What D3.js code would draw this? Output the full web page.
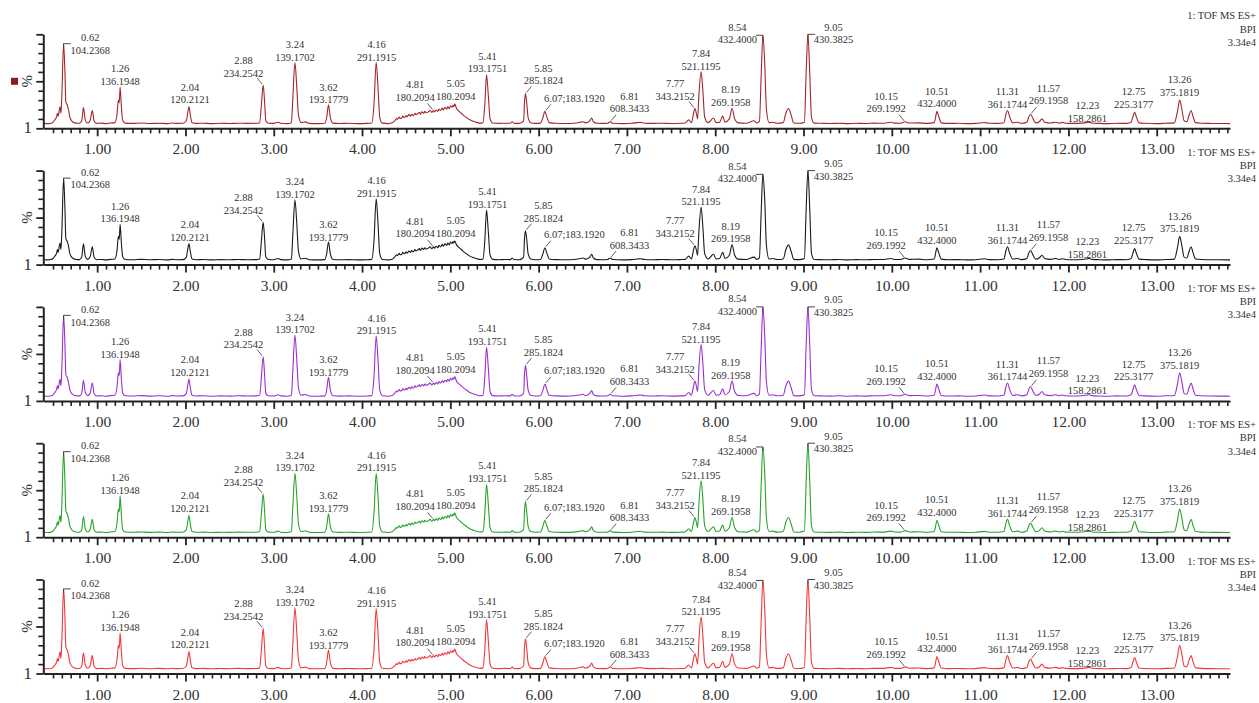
<!DOCTYPE html>
<html>
<head>
<meta charset="utf-8">
<script src="https://cdn.jsdelivr.net/npm/d3@7"></script>
<style>
  body { margin: 0; background: #fff; }
  text { font-family: "Liberation Serif", "DejaVu Serif", serif; fill: #333; }
</style>
</head>
<body>
<div id="chart-area"></div>
<script>
// labelled peaks: retention time (min) and base peak m/z
var peakRt = [0.62, 1.26, 2.04, 2.88, 3.24, 3.62, 4.16, 4.81, 5.05, 5.41, 5.85, 6.07, 6.81,
              7.77, 7.84, 8.19, 8.54, 9.05, 10.15, 10.51, 11.31, 11.57, 12.23, 12.75, 13.26];
var peakMz = ["104.2368", "136.1948", "120.2121", "234.2542", "139.1702", "193.1779", "291.1915",
              "180.2094", "180.2094", "193.1751", "285.1824", "183.1920", "608.3433", "343.2152",
              "521.1195", "269.1958", "432.4000", "430.3825", "269.1992", "432.4000", "361.1744",
              "269.1958", "158.2861", "225.3177", "375.1819"];

// apex heights (%) of the labelled peaks, one array per sample
var apexS1 = [90, 44, 23, 46, 70, 25, 70, 19, 26, 57, 37, 18, 7, 21, 60, 21, 99, 100, 7, 18, 19, 15, 6.5, 17, 30];
var apexS2 = [92, 43, 22, 45, 69, 24, 70, 19, 25, 58, 36, 18, 7, 20, 61, 21, 96, 100, 7, 18, 19, 15, 6.5, 17, 30];
var apexS3 = [91, 44, 23, 47, 70, 25, 69, 19, 26, 57, 38, 18, 7, 21, 60, 21, 100, 100, 7, 18, 19, 15, 6.5, 17, 30];
var apexS4 = [91, 44, 23, 46, 68, 25, 68, 19, 26, 56, 38, 18, 7, 21, 60, 21, 96, 100, 7, 18, 19, 15, 6.5, 17, 30];
var apexS5 = [90, 43, 23, 48, 70, 25, 69, 19, 26, 57, 37, 18, 7, 21, 60, 21, 99, 100, 7, 18, 19, 15, 6.5, 17, 30];

// rest of the BPI trace [time, %] (shared by the replicate injections)
var baseTrace = [
  [0.40, 5.2], [0.45, 5.0], [0.48, 5.4], [0.50, 6.5], [0.52, 9], [0.54, 12], [0.55, 16], [0.56, 13],
  [0.57, 19], [0.58, 23], [0.59, 16], [0.60, 35], [0.635, 60], [0.645, 28], [0.66, 25], [0.675, 20],
  [0.69, 12], [0.72, 7], [0.76, 5.5], [0.80, 5.3], [0.825, 8], [0.845, 22], [0.865, 9], [0.89, 5.6],
  [0.92, 8], [0.945, 19], [0.965, 8], [0.99, 5.2], [1.05, 5.5], [1.10, 5.0], [1.15, 5.6], [1.20, 6],
  [1.225, 15], [1.24, 30], [1.25, 27], [1.275, 22], [1.29, 8], [1.32, 5.5], [1.40, 5.2], [1.50, 5.6],
  [1.60, 5.1], [1.70, 5.4], [1.80, 5.0], [1.85, 5.6], [1.90, 5.2], [1.97, 5.3], [2.01, 8], [2.025, 16],
  [2.055, 14], [2.075, 6], [2.12, 5.2], [2.20, 5.4], [2.30, 5.0], [2.40, 5.3], [2.50, 5.1], [2.60, 5.4],
  [2.70, 5.2], [2.80, 5.3], [2.84, 6], [2.86, 25], [2.895, 30], [2.91, 8], [2.94, 5.4], [3.00, 5.2],
  [3.05, 6.5], [3.08, 5.3], [3.15, 5.0], [3.20, 6], [3.215, 30], [3.26, 45], [3.28, 14], [3.31, 6],
  [3.36, 6.8], [3.40, 5.2], [3.50, 5.0], [3.58, 5.3], [3.60, 12], [3.64, 12], [3.67, 5.5], [3.75, 5.1],
  [3.85, 5.3], [3.95, 5.0], [4.05, 5.2], [4.11, 5.6], [4.135, 25], [4.18, 45], [4.20, 12], [4.23, 5.5],
  [4.30, 5.0], [4.34, 5.8], [4.37, 8], [4.39, 10.5], [4.40, 9.5], [4.42, 12], [4.43, 10.5], [4.45, 11],
  [4.46, 13], [4.48, 11.5], [4.50, 13.5], [4.51, 12], [4.53, 14.5], [4.55, 13], [4.56, 15], [4.58, 13.5],
  [4.60, 16], [4.61, 14.5], [4.63, 15.5], [4.65, 17], [4.66, 15], [4.68, 17.5], [4.70, 16], [4.71, 18],
  [4.73, 16.5], [4.75, 17.5], [4.77, 19], [4.79, 17], [4.82, 17.5], [4.84, 19.5], [4.86, 18], [4.87, 20.5],
  [4.89, 19], [4.91, 21.5], [4.92, 19.5], [4.94, 22], [4.96, 20.5], [4.97, 23], [4.99, 21], [5.00, 24],
  [5.02, 22.5], [5.03, 24.5], [5.04, 23], [5.07, 21], [5.10, 18], [5.13, 15.5], [5.16, 13], [5.19, 11],
  [5.22, 9], [5.26, 7.5], [5.30, 6.3], [5.34, 5.5], [5.37, 6], [5.39, 25], [5.43, 35], [5.45, 10],
  [5.48, 5.6], [5.55, 5.2], [5.62, 5.4], [5.68, 5.3], [5.70, 7], [5.72, 5.4], [5.78, 5.2], [5.83, 8],
  [5.84, 28], [5.865, 27], [5.88, 12], [5.91, 6], [5.96, 5.2], [6.02, 5.5], [6.05, 12], [6.09, 13],
  [6.12, 6], [6.20, 5.3], [6.30, 5.1], [6.40, 5.4], [6.46, 6.2], [6.50, 7], [6.53, 5.8], [6.58, 8],
  [6.60, 11], [6.62, 7], [6.66, 5.3], [6.72, 5.2], [6.78, 5.4], [6.84, 5.4], [6.95, 5.0], [7.05, 5.3],
  [7.12, 6], [7.15, 6.3], [7.20, 5.4], [7.30, 5.2], [7.40, 5.4], [7.50, 5.1], [7.60, 5.3], [7.66, 5.6],
  [7.70, 9], [7.73, 6], [7.755, 16], [7.79, 14], [7.80, 10], [7.815, 35], [7.86, 40], [7.88, 12],
  [7.92, 6], [7.98, 11], [8.01, 6], [8.05, 6.5], [8.085, 13], [8.11, 6.5], [8.16, 10], [8.22, 10],
  [8.26, 5.8], [8.35, 5.4], [8.44, 8], [8.47, 5.6], [8.50, 7], [8.52, 55], [8.56, 70], [8.58, 20],
  [8.61, 6], [8.65, 6.5], [8.70, 5.4], [8.77, 6], [8.80, 16], [8.83, 21], [8.86, 14], [8.89, 5.6],
  [8.95, 5.3], [9.01, 6.5], [9.03, 60], [9.07, 60], [9.09, 12], [9.12, 5.5], [9.20, 5.3], [9.30, 5.1],
  [9.40, 5.4], [9.50, 5.0], [9.60, 5.3], [9.70, 5.1], [9.80, 5.5], [9.90, 5.4], [9.99, 6.5], [10.03, 5.5],
  [10.10, 5.4], [10.20, 5.6], [10.30, 5.8], [10.40, 5.2], [10.48, 6], [10.50, 14], [10.53, 13],
  [10.56, 5.8], [10.65, 5.2], [10.75, 5.3], [10.85, 5.0], [10.95, 5.2], [11.05, 6.2], [11.10, 5.3],
  [11.20, 5.2], [11.27, 6], [11.29, 14], [11.335, 12], [11.37, 5.8], [11.42, 6.5], [11.47, 5.3],
  [11.53, 6.5], [11.55, 12], [11.60, 10], [11.63, 5.8], [11.67, 7], [11.70, 10], [11.73, 6.5],
  [11.80, 5.6], [11.85, 6.5], [11.90, 5.5], [11.93, 6.3], [11.97, 5.4], [12.05, 5.2], [12.15, 5.5],
  [12.20, 6], [12.27, 5.6], [12.35, 5.2], [12.45, 5.0], [12.55, 5.3], [12.65, 5.2], [12.71, 6.5],
  [12.73, 12], [12.77, 12], [12.80, 5.8], [12.88, 5.3], [13.00, 5.0], [13.10, 5.4], [13.20, 5.8],
  [13.235, 18], [13.285, 20], [13.31, 8], [13.34, 7], [13.37, 15], [13.39, 19], [13.41, 13], [13.44, 6],
  [13.50, 5.4], [13.60, 5.2], [13.70, 5.1], [13.83, 5.0]
];

var xTickValues = [1, 2, 3, 4, 5, 6, 7, 8, 9, 10, 11, 12, 13];
var xTickLabels = ["1.00", "2.00", "3.00", "4.00", "5.00", "6.00", "7.00", "8.00", "9.00",
                   "10.00", "11.00", "12.00", "13.00"];
var headerLines = ["1: TOF MS ES+", "BPI", "3.34e4"];

var samples = [apexS1, apexS2, apexS3, apexS4, apexS5];
var colors = ["#a3262a", "#1a1a1a", "#9a2fd0", "#27a32b", "#f2373a"];

// label placement relative to the apex: [dx px, dy px, leader]
var labelLayout = [
  [26.6, 10.3, "b"], [0, -1.9, ""], [1, -3.4, ""], [-19.7, -8.4, "d"], [0, -1.8, ""],
  [0, -1.5, ""], [0.5, -1.8, ""], [-18.4, -9.4, "d"], [1, -3.9, ""], [1, -2.4, ""],
  [18, -9.2, "d"], [29.6, -9.7, "d"], [19.3, -9.4, "d"], [-19.8, -8.6, "d"], [0, -1.9, ""],
  [-1.3, -2.6, ""], [-25.5, 8.1, "b"], [25.5, 9, "b"], [-19, -9.4, "d"], [0, -4.1, ""],
  [0, -2.7, ""], [18, -9.9, "d"], [-1.3, -0.5, ""], [-1, -4.6, ""], [0, -4.1, ""]
];

var width = 1259, height = 703;
var panelTop = 34.3, panelStep = 136.3, panelH = 94;

var svg = d3.select("#chart-area")
  .append("svg")
    .attr("width", width)
    .attr("height", height);

var x = d3.scaleLinear()
  .domain([0.39, 13.83])
  .range([43.3, 1230]);

var minorTicks = d3.range(5, 139).map(function(d) { return d / 10; })
  .filter(function(d) { return Math.abs(d - Math.round(d)) > 0.01; });

samples.forEach(function(apex, s) {
  var g = svg.append("g")
    .attr("transform", "translate(0, " + (panelTop + s * panelStep) + ")");

  var y = d3.scaleLinear().domain([0, 100]).range([panelH, 0]);

  // trace
  var pts = baseTrace.concat(peakRt.map(function(t, i) { return [t, apex[i]]; }))
    .sort(function(a, b) { return a[0] - b[0]; });

  var line = d3.line()
    .x(function(d) { return x(d[0]); })
    .y(function(d) { return y(d[1]); })
    .curve(d3.curveMonotoneX);

  g.append("path")
    .datum(pts)
    .attr("fill", "none")
    .attr("stroke", colors[s])
    .attr("stroke-width", 1.1)
    .attr("stroke-linejoin", "round")
    .attr("d", line);

  // x axis: minor + major ticks
  var xMinor = d3.axisBottom(x).tickValues(minorTicks).tickSize(5).tickFormat("");
  g.append("g")
    .attr("transform", "translate(0, " + panelH + ")")
    .call(xMinor)
    .call(function(a) {
      a.select(".domain").remove();
      a.selectAll("line").attr("stroke", "#222").attr("stroke-width", 1.6);
    });

  var xMajor = d3.axisBottom(x)
    .tickValues(xTickValues)
    .tickSize(8)
    .tickSizeOuter(0)
    .tickPadding(7)
    .tickFormat(function(d, i) { return xTickLabels[i]; });
  g.append("g")
    .attr("transform", "translate(0, " + panelH + ")")
    .call(xMajor)
    .call(function(a) {
      a.select(".domain").attr("stroke", "#222").attr("stroke-width", 2);
      a.selectAll("line").attr("stroke", "#222").attr("stroke-width", 1.8);
      a.selectAll("text").attr("font-size", "15.5px").attr("fill", "#333")
        .attr("font-family", "Liberation Serif, serif");
    });

  // y axis
  var yMinor = d3.axisLeft(y).tickValues([10, 20, 30, 40, 60, 70, 80, 90]).tickSize(5).tickFormat("");
  var yMajor = d3.axisLeft(y).tickValues([0, 50, 100]).tickSize(7).tickSizeOuter(0).tickFormat("");
  g.append("g").attr("transform", "translate(" + x.range()[0] + ",0)")
    .call(yMinor)
    .call(function(a) {
      a.select(".domain").remove();
      a.selectAll("line").attr("stroke", "#222").attr("stroke-width", 1.6);
    });
  g.append("g").attr("transform", "translate(" + x.range()[0] + ",0)")
    .call(yMajor)
    .call(function(a) {
      a.select(".domain").attr("stroke", "#222").attr("stroke-width", 2);
      a.selectAll("line").attr("stroke", "#222").attr("stroke-width", 1.8);
    });

  g.append("text")
    .attr("x", 32)
    .attr("y", panelH + 5)
    .attr("text-anchor", "end")
    .attr("font-size", "17px")
    .text("1");

  g.append("text")
    .attr("transform", "translate(32, " + (panelH / 2) + ") rotate(-90)")
    .attr("text-anchor", "middle")
    .attr("font-size", "15px")
    .text("%");

  if (s === 0) {
    g.append("rect")
      .attr("x", 11).attr("y", panelH / 2 - 3.5)
      .attr("width", 7).attr("height", 7)
      .attr("fill", "#8c1c1c");
  }

  // header
  g.append("g").selectAll("text")
    .data(headerLines)
    .enter()
    .append("text")
      .attr("x", 1256)
      .attr("y", function(d, i) { return -15 + i * 13.2; })
      .attr("text-anchor", "end")
      .attr("font-size", "10.5px")
      .text(function(d) { return d; });

  // peak labels
  var labels = g.append("g").attr("font-size", "10.5px");
  peakRt.forEach(function(t, i) {
    var lay = labelLayout[i];
    var px = x(t), py = y(apex[i]);
    var cx = px + lay[0], by = py + lay[1];
    var dir = lay[0] < 0 ? -1 : 1;

    if (t === 6.07) {
      labels.append("text")
        .attr("x", cx).attr("y", by)
        .attr("text-anchor", "middle")
        .text(t.toFixed(2) + ";" + peakMz[i]);
    } else {
      labels.append("text")
        .attr("x", cx).attr("y", by - 12.7)
        .attr("text-anchor", "middle")
        .text(t.toFixed(2));
      labels.append("text")
        .attr("x", cx).attr("y", by)
        .attr("text-anchor", "middle")
        .text(peakMz[i]);
    }

    if (lay[2] === "b") {
      labels.append("path")
        .attr("d", "M" + px + "," + (py + 4) + "V" + py + "H" + (px + dir * 7))
        .attr("fill", "none").attr("stroke", "#333").attr("stroke-width", 0.9);
    } else if (lay[2] === "d") {
      labels.append("line")
        .attr("x1", px + dir * 1).attr("y1", py - 1)
        .attr("x2", px + dir * 6).attr("y2", py - 7)
        .attr("stroke", "#333").attr("stroke-width", 0.8);
    }
  });
});
</script>
</body>
</html>
